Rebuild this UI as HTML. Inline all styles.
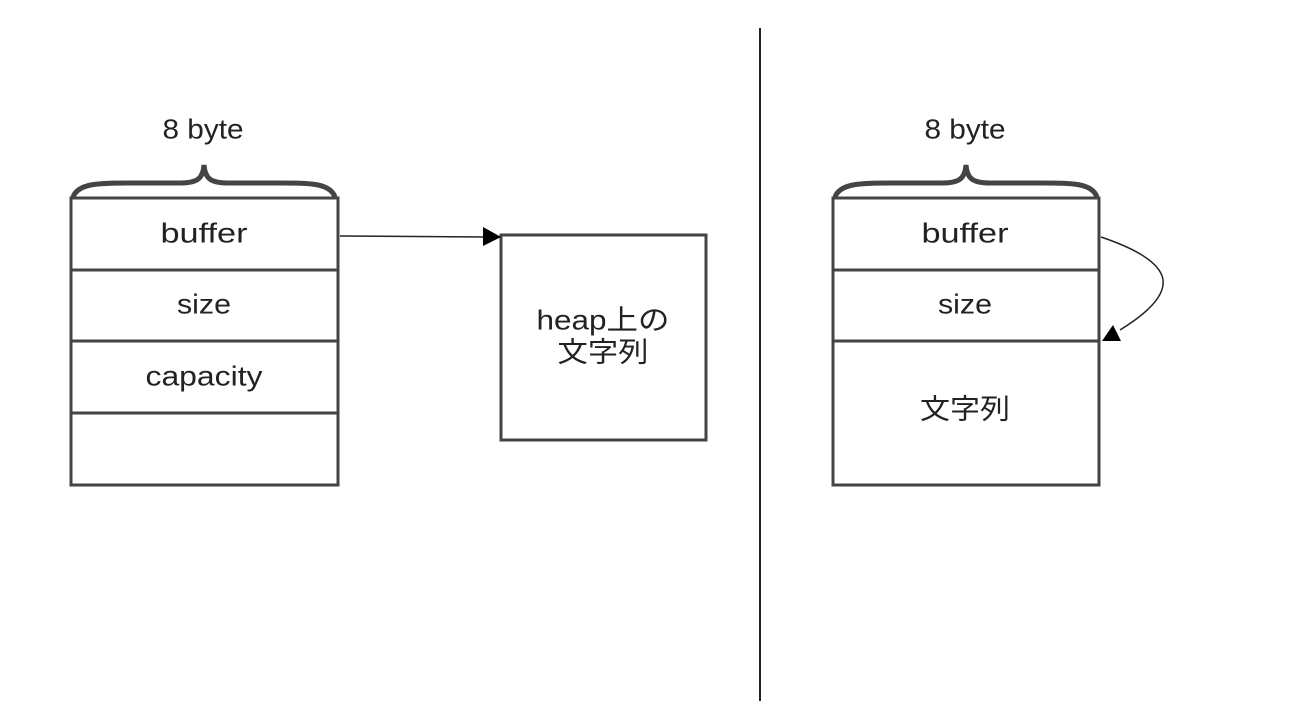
<!DOCTYPE html>
<html><head><meta charset="utf-8"><style>
html,body{margin:0;padding:0;background:#fff;}
svg{display:block;}
text{font-family:"Liberation Sans","Noto Sans CJK JP",sans-serif;font-size:28px;fill:#222;text-anchor:middle;dominant-baseline:central;}
</style></head><body>
<svg width="1300" height="725" viewBox="0 0 1300 725">
<!-- left -->
<text x="203" y="129" textLength="81" lengthAdjust="spacingAndGlyphs">8 byte</text>
<path d="M73,197 C78,183 100,183 130,183 L180,183 C198,183 203,178 204,165 C205,178 210,183 228,183 L280,183 C310,183 330,183 335,197" fill="none" stroke="#444" stroke-width="5"/>
<rect x="71" y="198" width="267" height="287" fill="none" stroke="#444" stroke-width="3"/>
<line x1="71" y1="270" x2="338" y2="270" stroke="#444" stroke-width="3"/>
<line x1="71" y1="341" x2="338" y2="341" stroke="#444" stroke-width="3"/>
<line x1="71" y1="413" x2="338" y2="413" stroke="#444" stroke-width="3"/>
<text x="204" y="233" textLength="87" lengthAdjust="spacingAndGlyphs">buffer</text>
<text x="204" y="304" textLength="54" lengthAdjust="spacingAndGlyphs">size</text>
<text x="204" y="376" textLength="117" lengthAdjust="spacingAndGlyphs">capacity</text>
<rect x="501" y="235" width="205" height="205" fill="none" stroke="#444" stroke-width="3"/>
<text x="603" y="320" textLength="133" lengthAdjust="spacingAndGlyphs">heap上の</text>
<text x="603" y="352" textLength="91" lengthAdjust="spacingAndGlyphs">文字列</text>
<line x1="340" y1="236" x2="485" y2="237" stroke="#222" stroke-width="1.5"/>
<path d="M483,227 L501,237 L483,246 Z" fill="#000"/>
<!-- divider -->
<line x1="760" y1="28" x2="760" y2="701" stroke="#222" stroke-width="2"/>
<!-- right -->
<text x="965" y="129" textLength="81" lengthAdjust="spacingAndGlyphs">8 byte</text>
<path d="M835,197 C840,183 862,183 892,183 L942,183 C960,183 965,178 966,165 C967,178 972,183 990,183 L1042,183 C1072,183 1092,183 1097,197" fill="none" stroke="#444" stroke-width="5"/>
<rect x="833" y="198" width="266" height="287" fill="none" stroke="#444" stroke-width="3"/>
<line x1="833" y1="270" x2="1099" y2="270" stroke="#444" stroke-width="3"/>
<line x1="833" y1="341" x2="1099" y2="341" stroke="#444" stroke-width="3"/>
<text x="965" y="233" textLength="87" lengthAdjust="spacingAndGlyphs">buffer</text>
<text x="965" y="304" textLength="54" lengthAdjust="spacingAndGlyphs">size</text>
<text x="965" y="409" textLength="90" lengthAdjust="spacingAndGlyphs">文字列</text>
<path d="M1101,237 C1175,262 1185,290 1120,330" fill="none" stroke="#222" stroke-width="1.5"/>
<path d="M1102,341 L1121,341 L1113,325 Z" fill="#000"/>
</svg>
</body></html>
